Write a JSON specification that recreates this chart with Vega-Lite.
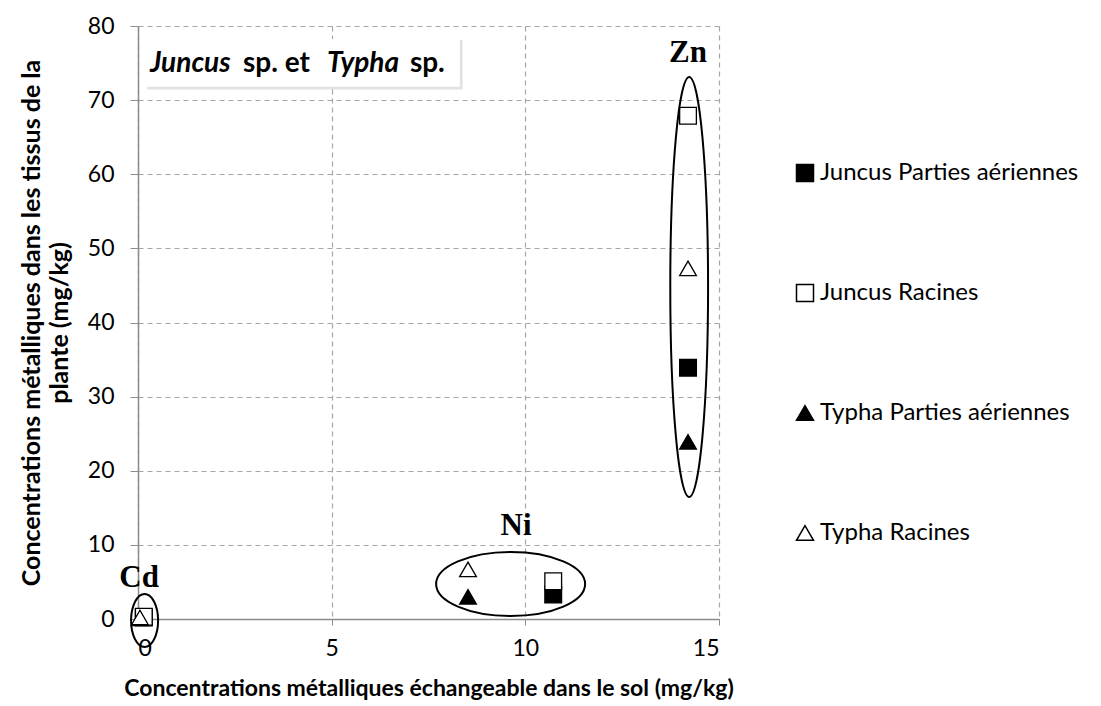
{
  "$schema": "https://vega.github.io/schema/vega-lite/v6.json",
  "width": 581,
  "height": 593,
  "autosize": {"type": "none"},
  "padding": {"left": 138, "top": 26, "right": 382, "bottom": 87},
  "background": "white",
  "config": {"view": {"stroke": null}, "font": "Lato"},
  "datasets": {
    "points": [
      {"metal": "Zn", "serie": "Juncus Parties aériennes", "x": 14.2, "y": 33.9},
      {"metal": "Ni", "serie": "Juncus Parties aériennes", "x": 10.72, "y": 3.3},
      {"metal": "Cd", "serie": "Juncus Parties aériennes", "x": 0.15, "y": 0.2},
      {"metal": "Zn", "serie": "Juncus Racines", "x": 14.2, "y": 67.9},
      {"metal": "Ni", "serie": "Juncus Racines", "x": 10.72, "y": 5.1},
      {"metal": "Cd", "serie": "Juncus Racines", "x": 0.15, "y": 0.3},
      {"metal": "Zn", "serie": "Typha Parties aériennes", "x": 14.2, "y": 23.9},
      {"metal": "Ni", "serie": "Typha Parties aériennes", "x": 8.52, "y": 3.0},
      {"metal": "Cd", "serie": "Typha Parties aériennes", "x": 0.05, "y": 0.1},
      {"metal": "Zn", "serie": "Typha Racines", "x": 14.2, "y": 47.3},
      {"metal": "Ni", "serie": "Typha Racines", "x": 8.52, "y": 6.7},
      {"metal": "Cd", "serie": "Typha Racines", "x": 0.05, "y": 0.2}
    ],
    "ellipses": [
      {"metal": "Zn", "x": 14.23, "y": 44.8},
      {"metal": "Ni", "x": 9.62, "y": 4.72},
      {"metal": "Cd", "x": 0.17, "y": -0.2}
    ],
    "labels": [
      {"metal": "Zn", "x": 14.2, "y": 75.1},
      {"metal": "Ni", "x": 9.76, "y": 11.3},
      {"metal": "Cd", "x": 0.03, "y": 4.3}
    ],
    "box": [
      {"part": "shadow", "x0": 0.24, "x1": 8.38, "y0": 78.1, "y1": 71.45},
      {"part": "box", "x0": 0.18, "x1": 8.31, "y0": 78.25, "y1": 71.8}
    ],
    "boxtext": [
      {"kind": "genre", "txt": "Juncus", "x": 0.31, "y": 73.8},
      {"kind": "autre", "txt": "sp. et", "x": 2.71, "y": 73.8},
      {"kind": "genre", "txt": "Typha", "x": 4.88, "y": 73.8},
      {"kind": "autre", "txt": "sp.", "x": 7.02, "y": 73.8}
    ]
  },
  "layer": [
    {
      "data": {"name": "points"},
      "mark": {"type": "point", "filled": true, "stroke": "black", "strokeWidth": 1.3, "opacity": 1},
      "encoding": {
        "x": {
          "field": "x", "type": "quantitative",
          "scale": {"domain": [0, 15], "nice": false, "zero": false},
          "axis": {
            "title": "Concentrations métalliques échangeable dans le sol (mg/kg)",
            "values": [0, 5, 10, 15],
            "grid": true, "gridDash": [5, 4], "gridColor": "#a6a6a6", "gridWidth": 1.2,
            "domainColor": "#8c8c8c", "domainWidth": 1.5, "tickColor": "#8c8c8c", "tickSize": 6,
            "labelFontSize": 23, "labelColor": "black", "labelPadding": 12, "labelFont": "Lato",
            "titleFontSize": 23, "titleFontWeight": "bold", "titleColor": "black", "titlePadding": 17, "titleFont": "Lato"
          }
        },
        "y": {
          "field": "y", "type": "quantitative",
          "scale": {"domain": [0, 80], "nice": false, "zero": false},
          "axis": {
            "title": ["Concentrations métalliques dans les tissus de la", "plante (mg/kg)"],
            "values": [0, 10, 20, 30, 40, 50, 60, 70, 80],
            "grid": true, "gridDash": [5, 4], "gridColor": "#a6a6a6", "gridWidth": 1.2,
            "domainColor": "#8c8c8c", "domainWidth": 1.5, "tickColor": "#8c8c8c", "tickSize": 8,
            "labelFontSize": 23, "labelColor": "black", "labelPadding": 16, "labelFont": "Lato",
            "titleFontSize": 25, "titleFontWeight": "bold", "titleColor": "black", "titlePadding": 15,
            "titleLineHeight": 28, "titleFont": "Lato"
          }
        },
        "shape": {
          "field": "serie", "type": "nominal",
          "scale": {
            "domain": ["Juncus Parties aériennes", "Juncus Racines", "Typha Parties aériennes", "Typha Racines"],
            "range": ["square", "square", "triangle-up", "triangle-up"]
          },
          "legend": {
            "title": null, "orient": "none", "legendX": 655, "legendY": 135,
            "labelFontSize": 24, "labelFont": "Lato", "labelColor": "black", "rowPadding": 96, "labelLimit": 400,
            "symbolSize": 289, "padding": 0, "labelOffset": 3,
            "encode": {"symbols": {"update": {"stroke": {"value": "black"}, "strokeWidth": {"value": 1.3}}}}
          }
        },
        "fill": {
          "field": "serie", "type": "nominal",
          "scale": {
            "domain": ["Juncus Parties aériennes", "Juncus Racines", "Typha Parties aériennes", "Typha Racines"],
            "range": ["black", "white", "black", "white"]
          },
          "legend": {
            "title": null, "orient": "none", "legendX": 655, "legendY": 135,
            "labelFontSize": 24, "labelFont": "Lato", "labelColor": "black", "rowPadding": 96, "labelLimit": 400,
            "symbolSize": 289, "padding": 0, "labelOffset": 3,
            "encode": {"symbols": {"update": {"stroke": {"value": "black"}, "strokeWidth": {"value": 1.3}}}}
          }
        },
        "size": {"value": 280}
      }
    },
    {
      "data": {"name": "ellipses"},
      "transform": [{"filter": "datum.metal == 'Zn'"}],
      "mark": {"type": "point", "filled": false, "stroke": "black", "strokeWidth": 2, "opacity": 1, "size": 176400,
        "shape": "M0,-1 A0.09,1 0 1,1 0,1 A0.09,1 0 1,1 0,-1 Z"},
      "encoding": {"x": {"field": "x", "type": "quantitative"}, "y": {"field": "y", "type": "quantitative"}}
    },
    {
      "data": {"name": "ellipses"},
      "transform": [{"filter": "datum.metal == 'Ni'"}],
      "mark": {"type": "point", "filled": false, "stroke": "black", "strokeWidth": 2, "opacity": 1, "size": 22201,
        "shape": "M-1,0 A1,0.43 0 1,1 1,0 A1,0.43 0 1,1 -1,0 Z"},
      "encoding": {"x": {"field": "x", "type": "quantitative"}, "y": {"field": "y", "type": "quantitative"}}
    },
    {
      "data": {"name": "ellipses"},
      "transform": [{"filter": "datum.metal == 'Cd'"}],
      "mark": {"type": "point", "filled": false, "stroke": "black", "strokeWidth": 2, "opacity": 1, "size": 2809,
        "shape": "M0,-1 A0.51,1 0 1,1 0,1 A0.51,1 0 1,1 0,-1 Z"},
      "encoding": {"x": {"field": "x", "type": "quantitative"}, "y": {"field": "y", "type": "quantitative"}}
    },
    {
      "data": {"name": "labels"},
      "mark": {"type": "text", "font": "Liberation Serif", "fontWeight": "bold", "fontSize": 31, "align": "center", "baseline": "alphabetic", "color": "black"},
      "encoding": {
        "x": {"field": "x", "type": "quantitative"},
        "y": {"field": "y", "type": "quantitative"},
        "text": {"field": "metal"}
      }
    },
    {
      "data": {"name": "box"},
      "transform": [{"filter": "datum.part == 'shadow'"}],
      "mark": {"type": "rect", "fill": "#c4c4c4", "opacity": 0.5},
      "encoding": {
        "x": {"field": "x0", "type": "quantitative"}, "x2": {"field": "x1"},
        "y": {"field": "y0", "type": "quantitative"}, "y2": {"field": "y1"}
      }
    },
    {
      "data": {"name": "box"},
      "transform": [{"filter": "datum.part == 'box'"}],
      "mark": {"type": "rect", "fill": "white", "opacity": 1},
      "encoding": {
        "x": {"field": "x0", "type": "quantitative"}, "x2": {"field": "x1"},
        "y": {"field": "y0", "type": "quantitative"}, "y2": {"field": "y1"}
      }
    },
    {
      "data": {"name": "boxtext"},
      "transform": [{"filter": "datum.kind == 'genre'"}],
      "mark": {"type": "text", "font": "Lato", "fontWeight": "bold", "fontStyle": "italic", "fontSize": 28, "align": "left", "baseline": "alphabetic", "color": "black"},
      "encoding": {
        "x": {"field": "x", "type": "quantitative"},
        "y": {"field": "y", "type": "quantitative"},
        "text": {"field": "txt"}
      }
    },
    {
      "data": {"name": "boxtext"},
      "transform": [{"filter": "datum.kind == 'autre'"}],
      "mark": {"type": "text", "font": "Lato", "fontWeight": "bold", "fontSize": 28, "align": "left", "baseline": "alphabetic", "color": "black"},
      "encoding": {
        "x": {"field": "x", "type": "quantitative"},
        "y": {"field": "y", "type": "quantitative"},
        "text": {"field": "txt"}
      }
    }
  ]
}
